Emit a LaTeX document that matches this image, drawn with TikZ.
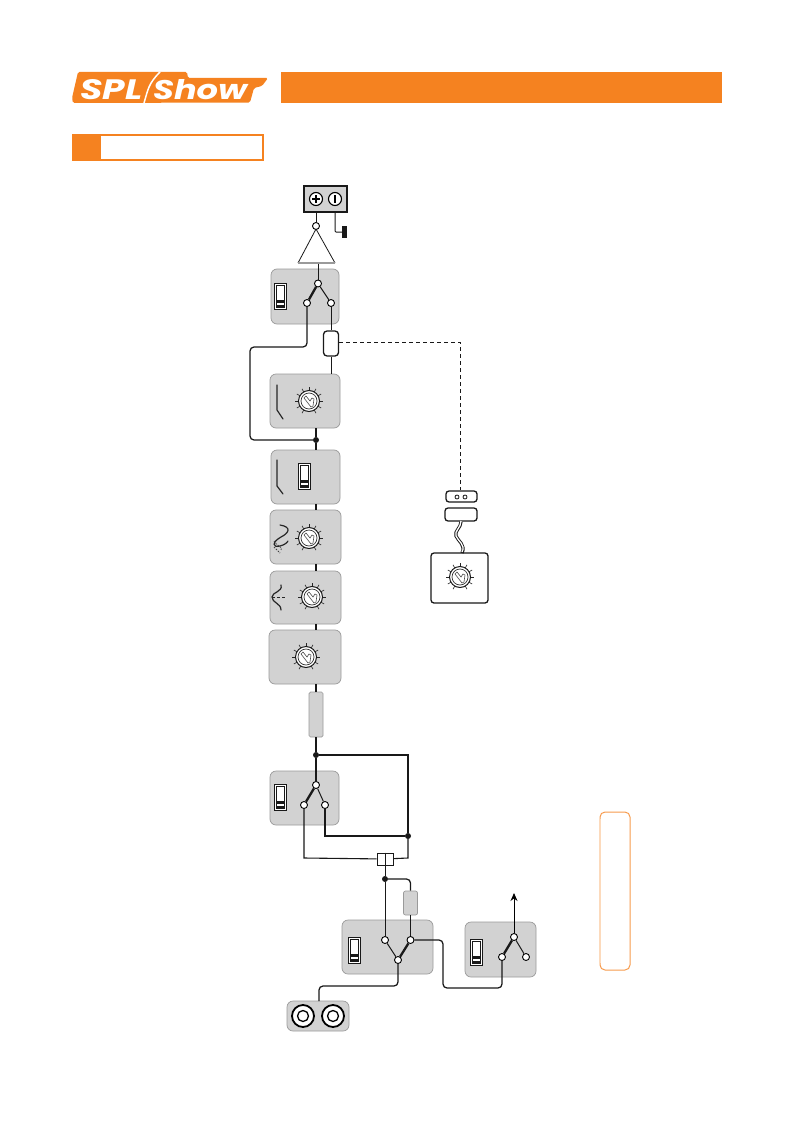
\documentclass[tikz,border=0pt]{standalone}
\usepackage{graphicx}
\usepackage{fontspec}
\newfontfamily\logofont{Poppins}
\usetikzlibrary{arrows.meta,shapes.geometric}
\definecolor{splorange}{HTML}{F58220}
\definecolor{boxgray}{HTML}{D2D2D2}
\definecolor{boxedge}{HTML}{9A9A9A}
\tikzset{
  gbox/.style={draw=boxedge,fill=boxgray,line width=0.7pt,rounded corners=6pt,inner sep=0pt},
  term/.style={circle,draw=black,fill=white,line width=0.9pt,minimum size=7pt,inner sep=0pt},
  junc/.style={circle,fill=black!90,minimum size=6pt,inner sep=0pt},
  wirea/.style={draw=black!90,line width=1.25pt,rounded corners=4pt},
  wireb/.style={draw=black!90,line width=1pt,rounded corners=4pt},
  wirec/.style={draw=black!90,line width=2.3pt},
  blackbox/.style={draw=black!90,fill=white,line width=1.3pt,rounded corners=3pt,inner sep=0pt},
  curveline/.style={draw=black!85,line width=1.2pt,line cap=round},
  knob/.pic={
    \foreach \a in {120,150,...,420} \draw[black!85,line width=0.6pt] (\a:10) -- (\a:14);
    \draw[black!90,fill=white,line width=1pt] (0,0) circle (10.5);
    \draw[black!80,line width=0.7pt] (0,0) circle (8);
    \draw[black!70,line width=0.6pt,fill=white] (-5,-3) -- (-3,-5) -- (1,0) -- (3,-3) -- (5,-2) -- (4,5) -- (2,6) -- cycle;
  },
  slideswitch/.pic={
    \draw[black!90,fill=white,line width=1pt] (-6,-13) rectangle (6,13);
    \draw[black!90,line width=0.6pt] (-4,-11) rectangle (4,11);
    \fill[black!90] (-4,3.5) rectangle (4,7);
    \fill[black!90] (-4,8.5) rectangle (4,11);
  }
}
\begin{document}
\begin{tikzpicture}[x=1pt,y=-1pt]
\useasboundingbox (0,0) rectangle (794,1134);
% header
\fill[splorange,rounded corners=1.5pt] (78,72) -- (187,72) -- (188,78) -- (268,78) -- (262,86) -- (254,88) -- (250,102.5) -- (73,103) -- (72,98) -- cycle;
\node[inner sep=0pt,anchor=south west,text=white] (logoa) at (80,100) {\resizebox{62pt}{20pt}{\logofont\bfseries\itshape SPL}};
\node[inner sep=0pt,anchor=south west,text=white] (logob) at (153,100) {\resizebox{94pt}{20pt}{\logofont\bfseries\itshape Show}};
\draw[white,line width=1.5pt] (160,72) .. controls (148,84) and (148,90) .. (144,103);
\node[fill=splorange,minimum width=441pt,minimum height=31pt,inner sep=0pt] (headbar) at (501.5,87.5) {};
\node[draw=splorange,fill=white,line width=2pt,minimum width=190pt,minimum height=25pt,inner sep=0pt] (sectbox) at (167.5,148) {};
\node[fill=splorange,minimum width=29pt,minimum height=26pt,inner sep=0pt] (sectnum) at (86.5,148) {};
% boxes
\node[gbox,minimum width=68pt,minimum height=55pt] (b1) at (305,296.5) {};
\node[gbox,minimum width=70pt,minimum height=54pt] (b2) at (305,401) {};
\node[gbox,minimum width=69pt,minimum height=54pt] (b3) at (305.5,477) {};
\node[gbox,minimum width=71pt,minimum height=54pt] (b4) at (305.5,537) {};
\node[gbox,minimum width=71pt,minimum height=53pt] (b5) at (305.5,597.5) {};
\node[gbox,minimum width=72pt,minimum height=54pt] (b6) at (305,657) {};
\node[gbox,minimum width=69pt,minimum height=54pt] (b7) at (304.5,798) {};
\node[gbox,minimum width=91pt,minimum height=54pt] (b8) at (387.5,947) {};
\node[gbox,minimum width=71pt,minimum height=55pt] (b9) at (500.5,949.5) {};
\node[gbox,minimum width=62pt,minimum height=30pt] (b10) at (318,1016) {};
\node[gbox,rounded corners=1.5pt,minimum width=14pt,minimum height=45pt] (padone) at (316,714.5) {};
\node[gbox,rounded corners=2pt,minimum width=14pt,minimum height=24pt] (padtwo) at (410.5,903) {};
% input terminal
\node[draw=black!90,fill=boxgray,line width=1.1pt,minimum width=43pt,minimum height=26pt,inner sep=0pt] (tbox) at (325.5,199) {};
\node[circle,draw=black,fill=white,line width=1.1pt,minimum size=13pt,inner sep=0pt] (tplus) at (316,199) {};
\node[circle,draw=black,fill=white,line width=1.1pt,minimum size=13pt,inner sep=0pt] (tminus) at (335,199) {};
\draw[black,line width=1.8pt] (312,199) -- (320,199) (316,195) -- (316,203);
\draw[black,line width=2.4pt] (335,195) -- (335,203);
\node[term] (ampin) at (316,226) {};
\node[inner sep=0pt] (ampbase) at (318,263) {};
\coordinate (ampapex) at (316,229);
\draw[black!90,line width=0.8pt] (ampapex) -- (298,263);
\draw[black!90,line width=0.8pt] (ampapex) -- (335,263);
\draw[boxedge,line width=1.2pt] (298,263) -- (335,263);
\draw[wireb] (tbox.south -| tplus) -- (ampin);
\coordinate (gndend) at (343,232);
\draw[wireb,rounded corners=1pt] (tbox.south -| tminus) -- (335,232) -- (gndend);
\fill[black!90] (342,226) rectangle (347,238);
% switch 1
\node[term] (s1t) at (318,283.5) {};
\node[term] (s1l) at (307,303) {};
\node[term] (s1r) at (331,303) {};
\pic at (280,296) {slideswitch};
\draw[wirec] (s1t) -- (s1l);
\draw[wireb] (s1t) -- (s1r);
\draw[wireb] (ampbase) -- (s1t);
% insert tube
\node[blackbox,minimum width=15pt,minimum height=25pt,rounded corners=3.5pt] (tube) at (331,343.5) {};
\draw[wireb] (s1r) -- (tube);
\coordinate (b2top) at (331,374);
\draw[wireb] (tube) -- (b2top);
\node[junc] (jone) at (316,440) {};
\draw[wirea] (s1l) -- (307,347) -- (250,347) -- (250,440) -- (jone);
\draw[wirec,line width=1.8pt] (b2.south -| jone) -- (jone);
\draw[wirec,line width=1.8pt] (jone) -- (b3.north -| jone);
\draw[wirec,line width=1.8pt] (b3.south -| jone) -- (b4.north -| jone);
\draw[wirec,line width=1.8pt] (b4.south -| jone) -- (b5.north -| jone);
\draw[wirec,line width=1.8pt] (b5.south -| jone) -- (b6.north -| jone);
\draw[wirec,line width=1.8pt] (b6.south -| jone) -- (padone);
% remote
\node[blackbox,minimum width=31pt,minimum height=11pt] (rjack) at (461.5,496.5) {};
\fill[white,draw=black!90,line width=0.8pt] (457,497) circle (2) (465,497) circle (2);
\node[blackbox,minimum width=32pt,minimum height=13pt] (rplug) at (461,514.5) {};
\node[blackbox,minimum width=57pt,minimum height=50pt] (rbox) at (459.5,578) {};
\draw[draw=black!90,line width=0.9pt,dash pattern=on 4pt off 3pt] (tube.east |- 0,342.5) -- (460.5,342.5) -- (rjack.north -| 460.5,0);
\draw[black!90,line width=3.2pt] (rplug.south) .. controls (461,528) and (454,531) .. (456,536) .. controls (458,541) and (466,545) .. (462,553);
\draw[white,line width=1.3pt] (461,521) .. controls (461,528) and (454,531) .. (456,536) .. controls (458,541) and (466,545) .. (462,552);
\pic at (460,577) {knob};
% knobs and curves
\pic at (309,401) {knob};
\draw[curveline] (277,385) -- (277,410) -- (283,419);
\draw[curveline] (277,460) -- (277,486) -- (283,494);
\pic at (304,476) {slideswitch};
\pic at (309,538) {knob};
\draw[curveline] (280,525) .. controls (292,527) and (289,533) .. (281,537) .. controls (272,542) and (272,548) .. (280,546) .. controls (284,545) and (287,543) .. (288,541);
\draw[black!75,line width=0.8pt,dash pattern=on 1.5pt off 1.2pt] (274,541) .. controls (276,546) and (284,547) .. (281,550) (274,547) -- (280,553);
\pic at (312,597) {knob};
\draw[curveline] (281,585) .. controls (283,592) and (272,592) .. (272,597) .. controls (272,603) and (281,603) .. (281,610);
\draw[black!85,line width=0.7pt,dash pattern=on 3pt off 2pt] (272,597) -- (286,597);
\pic at (306,657) {knob};
% lower chain
\node[junc] (jtwo) at (316,755) {};
\node[junc] (jthree) at (408,836) {};
\node[term] (s2t) at (316,785) {};
\node[term] (s2l) at (304,805) {};
\node[term] (s2r) at (325,805) {};
\pic at (280,797) {slideswitch};
\draw[wirec] (s2t) -- (s2l);
\draw[wireb] (s2t) -- (s2r);
\draw[wirec] (padone) -- (jtwo);
\draw[wirec] (jtwo) -- (s2t);
\node[draw=black!90,fill=white,line width=0.9pt,minimum width=16pt,minimum height=12pt,inner sep=0pt] (split) at (385,859) {};
\draw[black!90,line width=0.9pt] (split.north) -- (split.south);
\draw[wirea,rounded corners=0pt] (jtwo) -- (408,755) -- (jthree);
\draw[wirea,rounded corners=0pt] (s2r) -- (325,836) -- (jthree);
\draw[wireb,rounded corners=0pt,line width=1.1pt] (s2l) -- (304,858) -- (split);
\draw[wireb,rounded corners=0pt,line width=1.1pt] (jthree) -- (408,858) -- (split);
% bottom switches
\node[junc] (jfour) at (385,879) {};
\node[term] (s3a) at (385,940) {};
\node[term] (s3b) at (410.5,940) {};
\node[term] (s3c) at (398,960) {};
\pic at (354,950) {slideswitch};
\draw[wireb] (split) -- (jfour);
\draw[wireb] (jfour) -- (s3a);
\draw[wirea] (jfour) -- (410.5,879) -- (padtwo);
\draw[wirea] (padtwo) -- (s3b);
\draw[wireb] (s3a) -- (s3c);
\draw[wirec] (s3b) -- (s3c);
\node[term] (s4t) at (514,937) {};
\node[term] (s4l) at (502,957) {};
\node[term] (s4r) at (526,957) {};
\pic at (476,952) {slideswitch};
\draw[wirec] (s4t) -- (s4l);
\draw[wireb] (s4t) -- (s4r);
\coordinate (outtip) at (514,893);
\draw[-{Stealth[length=8pt,width=7pt]},draw=black,line width=1pt] (s4t) -- (outtip);
\draw[wirea] (s3b) -- (443,940) -- (443,988) -- (502,988) -- (s4l);
% RCA
\node[circle,draw=black,fill=white,line width=1.8pt,minimum size=22pt,inner sep=0pt] (rcaa) at (303,1016) {};
\node[circle,draw=black,fill=white,line width=1.8pt,minimum size=22pt,inner sep=0pt] (rcab) at (333,1016) {};
\node[circle,draw=black,fill=white,line width=1.3pt,minimum size=11pt,inner sep=0pt] (rcac) at (303,1016) {};
\node[circle,draw=black,fill=white,line width=1.3pt,minimum size=11pt,inner sep=0pt] (rcad) at (333,1016) {};
\draw[wirea] (s3c) -- (398,986) -- (319,986) -- (319,1001);
% note box
\node[draw=splorange!80,fill=white,line width=1pt,rounded corners=5pt,minimum width=30pt,minimum height=158pt,inner sep=0pt] (notebox) at (615,891) {};
\draw[splorange!30,line width=1.1pt] (600,819) -- (600,963);
\end{tikzpicture}
\end{document}
